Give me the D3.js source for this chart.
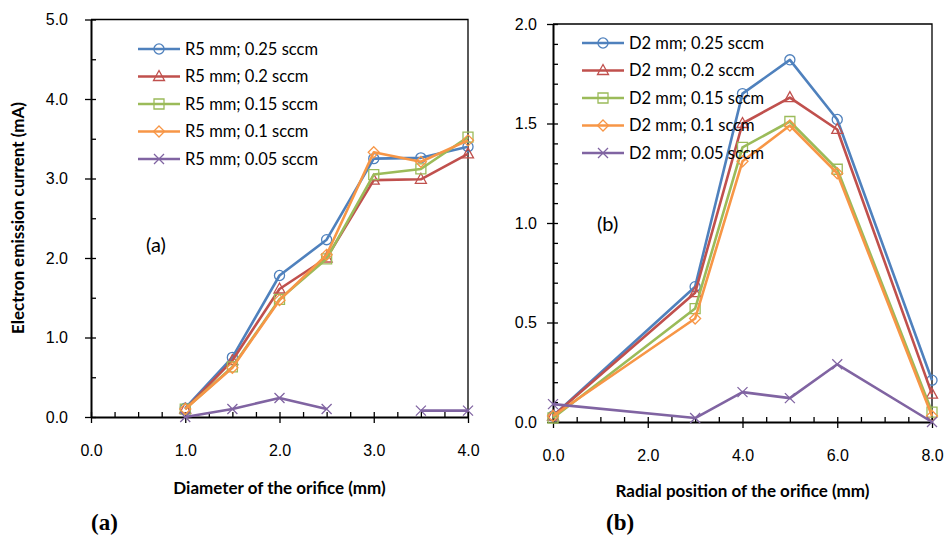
<!DOCTYPE html>
<html>
<head>
<meta charset="utf-8">
<style>
    body { margin: 0; background: #fff; }
    svg { display: block; font-family: Lato, 'Open Sans', sans-serif; }
    .tick text { font-size: 16px; fill: #000; }
    .axis .domain { stroke: #000; stroke-width: 2; }
    .axis .tick line { stroke: #000; stroke-width: 1.3; }
    .minor .domain { display: none; }
    .axis-title { font-size: 17px; font-weight: bold; }
    .legend text { font-size: 16.5px; }
    .panel-tag { font-family: 'Liberation Serif', serif; font-weight: bold; font-size: 23px; }
</style>
</head>
<body>
<svg width="944" height="535"></svg>
<script src="https://d3js.org/d3.v7.min.js"></script>
<script>
// ---- data ----
const seriesLabels = ["0.25 sccm", "0.2 sccm", "0.15 sccm", "0.1 sccm", "0.05 sccm"];
const seriesColors = ["#4F81BD", "#C0504D", "#9BBB59", "#F79646", "#8064A2"];
const seriesMarkers = ["circle", "triangle", "square", "diamond", "cross"];

// (a) diameter of the orifice
const diameterX = [1.0, 1.5, 2.0, 2.5, 3.0, 3.5, 4.0];
const diam025 = [0.11, 0.75, 1.78, 2.23, 3.25, 3.26, 3.40];
const diam020 = [0.10, 0.71, 1.61, 2.00, 2.98, 2.99, 3.31];
const diam015 = [0.10, 0.63, 1.48, 1.99, 3.05, 3.12, 3.52];
const diam010 = [0.10, 0.62, 1.47, 2.04, 3.33, 3.21, 3.48];
const diam005 = [0.00, 0.10, 0.24, 0.10, null, 0.08, 0.08];

// (b) radial position of the orifice
const radialX = [0, 3, 4, 5, 6, 8];
const rad025 = [0.03, 0.68, 1.65, 1.82, 1.52, 0.21];
const rad020 = [0.03, 0.65, 1.50, 1.63, 1.47, 0.14];
const rad015 = [0.02, 0.57, 1.38, 1.51, 1.27, 0.05];
const rad010 = [0.03, 0.52, 1.31, 1.49, 1.25, 0.03];
const rad005 = [0.09, 0.02, 0.15, 0.12, 0.29, 0.00];

const aTicksX = [0, 1, 2, 3, 4];
const aTicksY = [0, 1, 2, 3, 4, 5];
const bTicksX = [0, 2, 4, 6, 8];
const bTicksY = [0, 0.5, 1, 1.5, 2];

const svg = d3.select("svg");

function markerPath(type) {
    if (type === "circle") return d3.symbol(d3.symbolCircle, 80)();
    if (type === "triangle") return "M0,-6L5.5,4L-5.5,4Z";
    if (type === "square") return "M-5,-5H5V5H-5Z";
    if (type === "diamond") return "M0,-5.5L5.5,0L0,5.5L-5.5,0Z";
    return "M-5,-5L5,5M-5,5L5,-5";
}

function drawPanel(opt) {
    const x = d3.scaleLinear().domain(opt.xDomain).range(opt.xRange);
    const y = d3.scaleLinear().domain(opt.yDomain).range(opt.yRange);
    const g = svg.append("g");

    // plot frame (top + right)
    g.append("path")
        .attr("d", `M${opt.xRange[0]},${opt.yRange[1]}H${opt.xRange[1]}V${opt.yRange[0]}`)
        .attr("fill", "none").attr("stroke", "#000").attr("stroke-width", 1.3);

    // minor ticks point inward
    g.append("g").attr("class", "axis minor")
        .attr("transform", `translate(0,${opt.yRange[0]})`)
        .call(d3.axisBottom(x).tickValues(d3.range(opt.xDomain[0], opt.xDomain[1] + 1e-9, opt.xMinor)).tickSize(-5).tickFormat(""));
    g.append("g").attr("class", "axis minor")
        .attr("transform", `translate(${opt.xRange[0]},0)`)
        .call(d3.axisLeft(y).tickValues(d3.range(opt.yDomain[0], opt.yDomain[1] + 1e-9, opt.yMinor)).tickSize(-5).tickFormat(""));

    g.append("g").attr("class", "axis")
        .attr("transform", `translate(0,${opt.yRange[0]})`)
        .call(d3.axisBottom(x).tickValues(opt.xTicks).tickSize(6).tickSizeOuter(0).tickPadding(22).tickFormat(d3.format(".1f")));
    g.append("g").attr("class", "axis")
        .attr("transform", `translate(${opt.xRange[0]},0)`)
        .call(d3.axisLeft(y).tickValues(opt.yTicks).tickSize(6).tickSizeOuter(0).tickPadding(opt.yPad).tickFormat(d3.format(".1f")));

    const line = d3.line()
        .defined(d => d[1] != null)
        .x(d => x(d[0])).y(d => y(d[1]));

    opt.series.forEach((vals, i) => {
        const pts = opt.xs.map((xv, j) => [xv, vals[j]]);
        g.append("path")
            .datum(pts)
            .attr("fill", "none")
            .attr("stroke", seriesColors[i])
            .attr("stroke-width", 2.6)
            .attr("stroke-linejoin", "round")
            .attr("d", line);
        g.append("g").selectAll("path")
            .data(pts.filter(d => d[1] != null))
            .join("path")
            .attr("transform", d => `translate(${x(d[0])},${y(d[1])})`)
            .attr("d", markerPath(seriesMarkers[i]))
            .attr("fill", "none")
            .attr("stroke", seriesColors[i])
            .attr("stroke-width", 1.3);
    });

    // legend
    const lg = g.append("g").attr("class", "legend");
    seriesLabels.forEach((lab, i) => {
        const ly = opt.legendY + i * 27.5;
        lg.append("line")
            .attr("x1", opt.legendX).attr("x2", opt.legendX + 42)
            .attr("y1", ly).attr("y2", ly)
            .attr("stroke", seriesColors[i]).attr("stroke-width", 2.6);
        lg.append("path")
            .attr("transform", `translate(${opt.legendX + 21},${ly})`)
            .attr("d", markerPath(seriesMarkers[i]))
            .attr("fill", "none").attr("stroke", seriesColors[i]).attr("stroke-width", 1.3);
        lg.append("text")
            .attr("x", opt.legendX + 47).attr("y", ly).attr("dy", "0.36em")
            .text(opt.prefix + " mm; " + lab);
    });

    g.append("text").attr("x", opt.tagX).attr("y", opt.tagY).attr("dy", "0.36em")
        .style("font-size", "20px").text(opt.tag);

    g.append("text").attr("class", "axis-title")
        .attr("x", (opt.xRange[0] + opt.xRange[1]) / 2).attr("y", opt.titleY)
        .attr("text-anchor", "middle").text(opt.xTitle);

    g.append("text").attr("class", "panel-tag")
        .attr("x", opt.bottomX).attr("y", 530).text(opt.bottomTag);
}

drawPanel({
    xDomain: [0, 4], xRange: [91, 468], xTicks: aTicksX, xMinor: 0.25,
    yDomain: [0, 5], yRange: [417, 19.5], yTicks: aTicksY, yMinor: 0.5, yPad: 17,
    xs: diameterX, series: [diam025, diam020, diam015, diam010, diam005],
    legendX: 138, legendY: 49, prefix: "R5",
    tag: "(a)", tagX: 146, tagY: 245,
    xTitle: "Diameter of the orifice (mm)", titleY: 494,
    bottomTag: "(a)", bottomX: 91
});

drawPanel({
    xDomain: [0, 8], xRange: [553, 932], xTicks: bTicksX, xMinor: 0.5,
    yDomain: [0, 2], yRange: [422, 24], yTicks: bTicksY, yMinor: 0.1, yPad: 10,
    xs: radialX, series: [rad025, rad020, rad015, rad010, rad005],
    legendX: 582, legendY: 43, prefix: "D2",
    tag: "(b)", tagX: 597, tagY: 224,
    xTitle: "Radial position of the orifice (mm)", titleY: 497,
    bottomTag: "(b)", bottomX: 606
});

svg.append("text").attr("class", "axis-title")
    .attr("transform", "translate(24,218) rotate(-90)")
    .attr("text-anchor", "middle")
    .text("Electron emission current (mA)");
</script>
</body>
</html>
